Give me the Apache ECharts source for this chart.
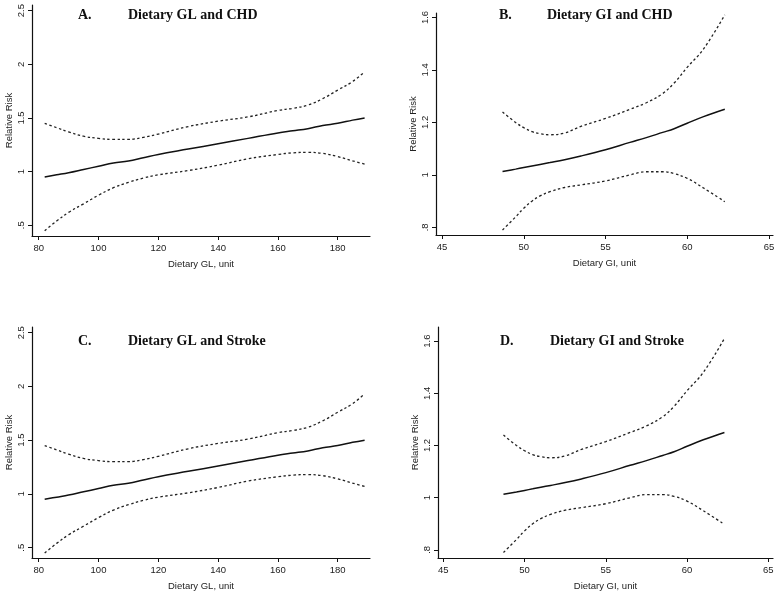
<!DOCTYPE html>
<html>
<head>
<meta charset="utf-8">
<script src="https://cdn.jsdelivr.net/npm/echarts@6/dist/echarts.min.js"></script>
<style>html,body{margin:0;padding:0;background:#fff}#c{width:780px;height:594px}</style>
</head>
<body>
<div id="c"></div>
<script>
// ---- Data ----
const glX      = [82, 86, 90, 95, 100, 105, 110, 115, 120, 130, 140, 150, 160, 165, 170, 175, 180, 185, 189];
const glFit    = [0.95, 0.97, 0.99, 1.02, 1.05, 1.08, 1.10, 1.13, 1.16, 1.21, 1.26, 1.31, 1.36, 1.38, 1.40, 1.43, 1.45, 1.48, 1.50];
const glUpper  = [1.45, 1.41, 1.37, 1.33, 1.31, 1.30, 1.30, 1.32, 1.35, 1.42, 1.47, 1.51, 1.57, 1.59, 1.62, 1.68, 1.76, 1.84, 1.93];
const glLower  = [0.45, 0.54, 0.62, 0.70, 0.78, 0.85, 0.90, 0.94, 0.97, 1.01, 1.06, 1.12, 1.16, 1.175, 1.18, 1.17, 1.14, 1.10, 1.07];

const giX      = [48.7, 49.5, 50, 50.5, 51, 51.6, 52.5, 53.5, 55, 56.5, 57.5, 58.5, 59.2, 60, 61, 62.3];
const giFit    = [1.013, 1.022, 1.028, 1.034, 1.04, 1.047, 1.058, 1.072, 1.096, 1.124, 1.142, 1.162, 1.176, 1.197, 1.222, 1.25];
const giUpper  = [1.24, 1.20, 1.18, 1.165, 1.157, 1.153, 1.16, 1.185, 1.215, 1.25, 1.275, 1.31, 1.35, 1.41, 1.48, 1.61];
const giLower  = [0.79, 0.84, 0.873, 0.90, 0.92, 0.936, 0.952, 0.962, 0.977, 1.0, 1.012, 1.012, 1.005, 0.987, 0.95, 0.898];

// Stroke panels (identical curves in the reference)
const strokeGlFit = glFit, strokeGlUpper = glUpper, strokeGlLower = glLower;
const strokeGiFit = giFit, strokeGiUpper = giUpper, strokeGiLower = giLower;

// Tick labels
const glXTicks = [80, 100, 120, 140, 160, 180];
const glYTicks = [0.5, 1, 1.5, 2, 2.5];
const giXTicks = [45, 50, 55, 60, 65];
const giYTicks = [0.8, 1, 1.2, 1.4, 1.6];

const panelLetters = ['A.', 'B.', 'C.', 'D.'];
const panelTitles = ['Dietary GL and CHD', 'Dietary GI and CHD', 'Dietary GL and Stroke', 'Dietary GI and Stroke'];
const xNames = ['Dietary GL, unit', 'Dietary GI, unit', 'Dietary GL, unit', 'Dietary GI, unit'];
const yName = 'Relative Risk';

// ---- Layout ----
const grids = [
  {left: 32, top: 5, width: 338, height: 231},
  {left: 436, top: 13, width: 337, height: 222},
  {left: 32, top: 327, width: 338, height: 231},
  {left: 438, top: 327, width: 335, height: 231}
];
const xRanges = [[77.76, 190.8], [44.63, 65.25], [77.76, 190.8], [44.67, 65.29]];
const yRanges = [[0.40, 2.553], [0.771, 1.617], [0.404, 2.553], [0.769, 1.654]];
const xTickSets = [glXTicks, giXTicks, glXTicks, giXTicks];
const yTickSets = [glYTicks, giYTicks, glYTicks, giYTicks];
const titlePos = [
  {l: 78, t: 8, tl: 128},
  {l: 499, t: 8, tl: 547},
  {l: 78, t: 334, tl: 128},
  {l: 500, t: 334, tl: 550}
];

const fmt = v => String(+v.toFixed(2)).replace(/^0\./, '.');
const axisColor = '#111';
const labelFont = {fontFamily: 'Liberation Sans, Arial, sans-serif', fontSize: 9.5, color: '#222'};

const xAxes = [], yAxes = [], titles = [], series = [];
grids.forEach((g, i) => {
  xAxes.push({
    type: 'value', gridIndex: i, min: xRanges[i][0], max: xRanges[i][1],
    name: xNames[i], nameLocation: 'middle', nameGap: 23,
    nameTextStyle: labelFont,
    axisLine: {show: true, onZero: false, lineStyle: {color: axisColor, width: 1.2}},
    axisTick: {show: true, length: 4, customValues: xTickSets[i], lineStyle: {color: axisColor}},
    axisLabel: {customValues: xTickSets[i], margin: 7, formatter: v => fmt(v), ...labelFont},
    splitLine: {show: false}
  });
  yAxes.push({
    type: 'value', gridIndex: i, min: yRanges[i][0], max: yRanges[i][1],
    name: yName, nameLocation: 'middle', nameGap: 18, nameRotate: 90,
    nameTextStyle: labelFont,
    axisLine: {show: true, onZero: false, lineStyle: {color: axisColor, width: 1.2}},
    axisTick: {show: true, length: 4, customValues: yTickSets[i], lineStyle: {color: axisColor}},
    axisLabel: {customValues: yTickSets[i], rotate: 90, margin: 6, formatter: v => fmt(v), ...labelFont},
    splitLine: {show: false}
  });
  titles.push({
    text: panelLetters[i], left: titlePos[i].l, top: titlePos[i].t, padding: 0,
    textStyle: {fontFamily: 'Liberation Serif, Times New Roman, serif', fontWeight: 'bold', fontSize: 14, color: '#111'}
  });
  titles.push({
    text: panelTitles[i], left: titlePos[i].tl, top: titlePos[i].t, padding: 0,
    textStyle: {fontFamily: 'Liberation Serif, Times New Roman, serif', fontWeight: 'bold', fontSize: 14, color: '#111'}
  });
});

const panelData = [
  [glX, glFit, glUpper, glLower],
  [giX, giFit, giUpper, giLower],
  [glX, strokeGlFit, strokeGlUpper, strokeGlLower],
  [giX, strokeGiFit, strokeGiUpper, strokeGiLower]
];
panelData.forEach((p, i) => {
  const xs = p[0];
  const mk = (vals, dotted) => ({
    type: 'line', xAxisIndex: i, yAxisIndex: i, smooth: 0.4, symbol: 'none',
    data: xs.map((x, k) => [x, vals[k]]),
    lineStyle: dotted ? {color: '#222', width: 1.3, type: [2.5, 2.5]} : {color: '#111', width: 1.5},
    silent: true, animation: false
  });
  series.push(mk(p[1], false), mk(p[2], true), mk(p[3], true));
});

const chart = echarts.init(document.getElementById('c'), null, {renderer: 'canvas'});
chart.setOption({
  animation: false,
  backgroundColor: '#fff',
  title: titles,
  grid: grids,
  xAxis: xAxes,
  yAxis: yAxes,
  series: series
});
</script>
</body>
</html>
